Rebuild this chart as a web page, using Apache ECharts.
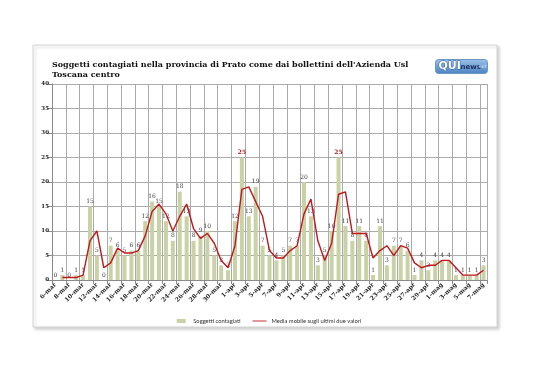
<!DOCTYPE html>
<html>
<head>
<meta charset="utf-8">
<script src="https://cdn.jsdelivr.net/npm/echarts@6/dist/echarts.min.js"></script>
<style>
html,body{margin:0;padding:0;background:#fff;}
#c{width:538px;height:380px;}
</style>
</head>
<body>
<div id="c"></div>
<script>
const categories = ['6-mar','7-mar','8-mar','9-mar','10-mar','11-mar','12-mar','13-mar','14-mar','15-mar','16-mar','17-mar','18-mar','19-mar','20-mar','21-mar','22-mar','23-mar','24-mar','25-mar','26-mar','27-mar','28-mar','29-mar','30-mar','31-mar','1-apr','2-apr','3-apr','4-apr','5-apr','6-apr','7-apr','8-apr','9-apr','10-apr','11-apr','12-apr','13-apr','14-apr','15-apr','16-apr','17-apr','18-apr','19-apr','20-apr','21-apr','22-apr','23-apr','24-apr','25-apr','26-apr','27-apr','28-apr','29-apr','30-apr','1-mag','2-mag','3-mag','4-mag','5-mag','6-mag','7-mag'];
const contagiati = [0,1,0,1,1,15,5,0,7,6,5,6,6,12,16,15,12,8,18,13,8,9,10,5,3,2,12,25,13,19,7,5,4,5,7,7,20,13,3,5,10,25,11,8,11,8,1,11,3,7,7,6,1,4,2,4,4,4,1,1,1,1,3];
const mediaMobile = [null,0.5,0.5,0.5,1,8,10,2.5,3.5,6.5,5.5,5.5,6,9,14,15.5,13.5,10,13,15.5,10.5,8.5,9.5,7.5,4,2.5,7,18.5,19,16,13,6,4.5,4.5,6,7,13.5,16.5,8,4,7.5,17.5,18,9.5,9.5,9.5,4.5,6,7,5,7,6.5,3.5,2.5,3,3,4,4,2.5,1,1,1,2];
const yTicks = [0,5,10,15,20,25,30,35,40];
const titleText = "Soggetti contagiati nella provincia di Prato come dai bollettini dell'Azienda Usl\nToscana centro";
const seriesNames = ['Soggetti contagiati','Media mobile sugli ultimi due valori'];

const maxVal = Math.max(...contagiati);
const barData = contagiati.map(v => v === maxVal ? {value: v, label: {color: '#b01818', fontWeight: 'bold'}} : v);

const chart = echarts.init(document.getElementById('c'), null, {renderer: 'canvas'});
chart.setOption({
  backgroundColor: '#fff',
  animation: false,
  graphic: [
    {type: 'rect', shape: {x: 33, y: 45, width: 464, height: 282}, style: {fill: '#fff', stroke: '#d4d4d4', lineWidth: 1, shadowColor: 'rgba(0,0,0,0.18)', shadowBlur: 3, shadowOffsetX: 2, shadowOffsetY: 2}, z: -10},
    {type: 'group', left: 435, top: 59, children: [
      {type: 'rect', shape: {x: 0, y: 0, width: 52, height: 14, r: 3}, style: {fill: {type: 'linear', x: 0, y: 0, x2: 0, y2: 1, colorStops: [{offset: 0, color: '#9cc2ea'}, {offset: 1, color: '#4a82c0'}]}, stroke: '#6a96c8'}},
      {type: 'text', x: 3, y: 1, style: {text: 'QUI', fill: '#ffffff', stroke: '#2a5a98', lineWidth: 1, font: 'bold 11px "DejaVu Sans"'}},
      {type: 'text', x: 25, y: 4, style: {text: 'news', fill: '#1c2f5e', font: 'bold 7px "DejaVu Sans"'}},
      {type: 'text', x: 43, y: 5, style: {text: 'net', fill: '#d0e2f6', font: '5px "DejaVu Sans"'}}
    ]}
  ],
  title: {
    text: titleText,
    left: 47, top: 55,
    textStyle: {fontFamily: 'DejaVu Serif', fontWeight: 'bold', fontSize: 8, color: '#111', lineHeight: 10}
  },
  legend: {
    top: 313, left: 'center',
    itemGap: 12,
    itemWidth: 14, itemHeight: 4,
    symbolKeepAspect: true,
    textStyle: {fontFamily: 'Liberation Sans Narrow, Lato', fontSize: 5.8, color: '#333'},
    data: [
      {name: seriesNames[0], icon: 'path://M0,0H9V4H0Z', itemStyle: {color: '#c8d2a4'}},
      {name: seriesNames[1], icon: 'path://M0,0H14V0.9H0Z', itemStyle: {color: '#c0181c'}}
    ]
  },
  grid: {left: 52, right: 51, top: 84, bottom: 100, containLabel: false},
  xAxis: {
    type: 'category',
    data: categories,
    boundaryGap: true,
    axisLine: {lineStyle: {color: '#8a8a8a', width: 1}},
    axisTick: {show: true, interval: 1, length: 4, lineStyle: {color: '#8a8a8a'}},
    splitLine: {show: true, interval: 1, lineStyle: {color: '#ababab', width: 1}},
    axisLabel: {interval: 1, rotate: 45, fontFamily: 'DejaVu Serif', fontSize: 6, fontWeight: 'bold', color: '#222', margin: 4}
  },
  yAxis: {
    type: 'value',
    min: yTicks[0], max: yTicks[yTicks.length - 1], interval: 5,
    axisLine: {show: true, lineStyle: {color: '#8a8a8a'}},
    axisTick: {show: true, length: 5, lineStyle: {color: '#8a8a8a'}},
    splitLine: {show: true, lineStyle: {color: '#ababab', width: 1}},
    axisLabel: {fontFamily: 'DejaVu Serif', fontSize: 5.5, fontWeight: 'bold', color: '#222', margin: 3}
  },
  series: [
    {
      name: seriesNames[0], type: 'bar', data: barData,
      barWidth: 4,
      itemStyle: {color: '#c8d2a4'},
      label: {show: true, position: 'top', distance: 2, fontFamily: 'DejaVu Serif', fontSize: 6, color: '#444'}
    },
    {
      name: seriesNames[1], type: 'line', data: mediaMobile,
      symbol: 'none', connectNulls: false,
      lineStyle: {color: '#c0181c', width: 1.4},
      itemStyle: {color: '#c0181c'}
    }
  ]
});
</script>
</body>
</html>
